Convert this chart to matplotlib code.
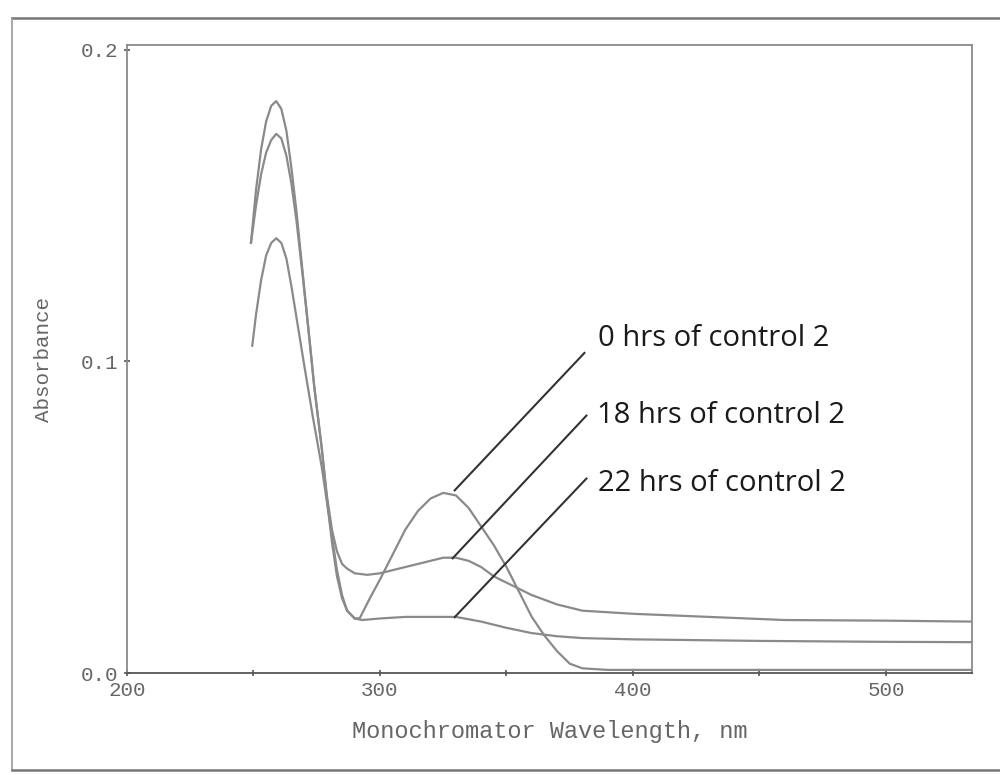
import matplotlib.pyplot as plt
from matplotlib.ticker import MultipleLocator
from matplotlib.lines import Line2D

# Spectra (wavelength nm, absorbance)
wl_0h = [249, 251, 253, 255, 257, 259, 261, 263, 265, 267, 269.5, 272, 274, 277, 279,
         281, 283, 285, 287, 290, 292, 296, 300, 305, 310, 315, 320, 325, 330, 335,
         340, 345, 350, 355, 360, 365, 370, 375, 380, 390, 420, 460, 500, 534]
abs_0h = [0.138, 0.155, 0.168, 0.177, 0.182, 0.1835, 0.181, 0.174, 0.162, 0.148, 0.128,
          0.108, 0.092, 0.072, 0.056, 0.042, 0.031, 0.024, 0.020, 0.0175, 0.0176, 0.024,
          0.030, 0.038, 0.046, 0.052, 0.056, 0.0578, 0.057, 0.053, 0.047, 0.041, 0.034,
          0.026, 0.018, 0.012, 0.007, 0.003, 0.0015, 0.001, 0.001, 0.001, 0.001, 0.001]

wl_18h = [249, 251, 253, 255, 257, 259, 261, 263, 265, 267, 269.5, 272, 274, 277, 279,
          281, 283, 285, 287, 290, 295, 300, 305, 310, 315, 320, 325, 330, 335, 340,
          345, 350, 355, 360, 370, 380, 400, 430, 460, 500, 534]
abs_18h = [0.138, 0.150, 0.160, 0.167, 0.171, 0.173, 0.1715, 0.166, 0.157, 0.145, 0.127,
           0.108, 0.092, 0.072, 0.057, 0.046, 0.039, 0.035, 0.0335, 0.032, 0.0315, 0.032,
           0.033, 0.034, 0.035, 0.036, 0.037, 0.037, 0.036, 0.034, 0.031, 0.029, 0.027,
           0.025, 0.022, 0.020, 0.019, 0.018, 0.017, 0.0168, 0.0165]

wl_22h = [249.5, 251, 253, 255, 257, 259, 261, 263, 265, 267, 270, 273.5, 277, 279, 281,
          283, 285, 287, 290, 293, 300, 310, 320, 330, 340, 350, 360, 370, 380, 400,
          450, 500, 534]
abs_22h = [0.105, 0.115, 0.126, 0.134, 0.138, 0.1395, 0.138, 0.133, 0.124, 0.114, 0.099,
           0.082, 0.066, 0.055, 0.044, 0.033, 0.025, 0.020, 0.0175, 0.017, 0.0175, 0.018,
           0.018, 0.018, 0.0165, 0.0145, 0.0128, 0.0118, 0.0112, 0.0108, 0.0103, 0.0100,
           0.0099]

labels = ['0 hrs of control 2', '18 hrs of control 2', '22 hrs of control 2']
x_ticks = [200, 300, 400, 500]
y_ticks = [0.0, 0.1, 0.2]

mono = 'Liberation Mono'
grey = '#666666'

fig = plt.figure(figsize=(10, 7.75), dpi=100)
ax = fig.add_axes([0.127, 0.1316, 0.845, 0.8103])

for wl, ab in [(wl_0h, abs_0h), (wl_18h, abs_18h), (wl_22h, abs_22h)]:
    ax.plot(wl, ab, color='#8a8a8a', lw=1.6)

ax.set_xlim(200, 534)
ax.set_ylim(0, 0.2015)
ax.set_xticks(x_ticks)
ax.set_xticklabels([str(v) for v in x_ticks])
ax.xaxis.set_minor_locator(MultipleLocator(50))
ax.set_yticks(y_ticks)
ax.set_yticklabels([f'{v:.1f}' for v in y_ticks])
ax.tick_params(which='both', direction='inout', length=4, width=1.2, color='#555555',
               labelsize=15, labelcolor=grey, pad=4)
for lab in ax.get_xticklabels() + ax.get_yticklabels():
    lab.set_family(mono)
for s in ax.spines.values():
    s.set_color('#8a8a8a')
    s.set_linewidth(1.3)
ax.spines['bottom'].set_color('#555555')

ax.set_xlabel('Monochromator Wavelength, nm', family=mono, fontsize=17, color=grey,
              labelpad=14)
ax.set_ylabel('Absorbance', family=mono, fontsize=15, color=grey, labelpad=20)

# leader lines and labels
starts = [(329.5, 0.0586), (328.7, 0.0368), (329.5, 0.0179)]
ends = [(380.8, 0.1027), (381.6, 0.0826), (381.6, 0.0624)]
text_pos = [(386.3, 0.1072), (385.6, 0.0826), (386.3, 0.0608)]
for lab, s, e, t in zip(labels, starts, ends, text_pos):
    ax.plot([s[0], e[0]], [s[1], e[1]], color='#333333', lw=1.5)
    ax.text(t[0], t[1], lab, family='Open Sans', fontsize=21, color='#1a1a1a',
            ha='left', va='center')

# outer scan frame
fig.add_artist(Line2D([0.012, 1.0], [0.977, 0.977], color='#777777', lw=1.8))
fig.add_artist(Line2D([0.012, 0.012], [0.006, 0.977], color='#999999', lw=1.2))
fig.add_artist(Line2D([0.012, 1.0], [0.006, 0.006], color='#777777', lw=1.8))

fig.savefig('out.png', dpi=100)
